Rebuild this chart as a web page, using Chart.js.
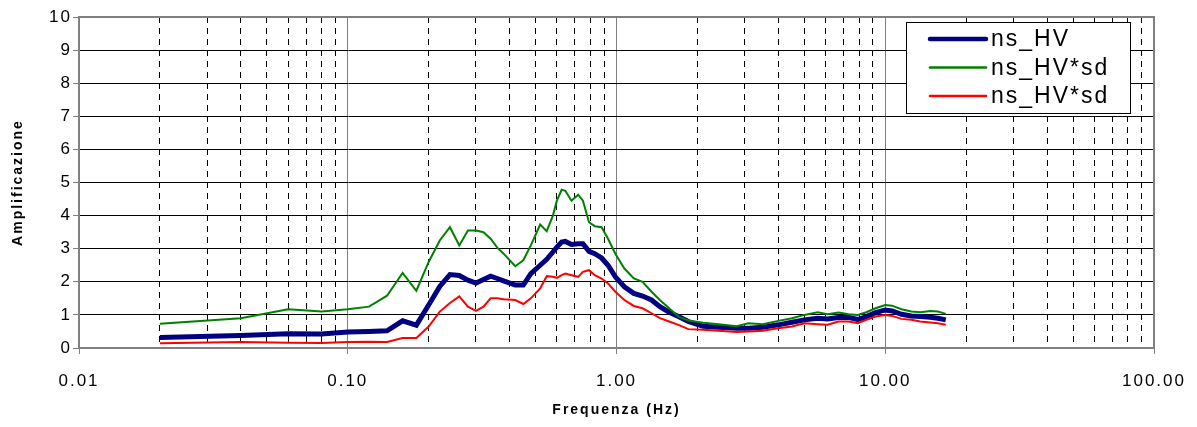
<!DOCTYPE html>
<html>
<head>
<meta charset="utf-8">
<title>ns_HV</title>
<script src="https://cdn.jsdelivr.net/npm/chart.js@4.4.1/dist/chart.umd.min.js"></script>
<style>
  html, body { margin: 0; padding: 0; background: #fff; }
  #wrap { width: 1197px; height: 427px; }
</style>
</head>
<body>
<div id="wrap"><canvas id="hvChart" width="1197" height="427"></canvas></div>
<script>
// frequenze (Hz)
const freq = [0.02, 0.04, 0.06, 0.08, 0.10, 0.12, 0.14, 0.16, 0.18, 0.20,
  0.22, 0.24, 0.26, 0.28, 0.30, 0.32, 0.34, 0.36, 0.38, 0.42,
  0.45, 0.48, 0.52, 0.55, 0.58, 0.60, 0.625, 0.645, 0.68, 0.72,
  0.75, 0.79, 0.83, 0.88, 0.93, 0.99, 1.07, 1.16, 1.25, 1.35,
  1.45, 1.57, 1.7, 1.85, 2.1, 2.4, 2.8, 3.1, 3.5, 4.0,
  4.5, 5.0, 5.6, 6.1, 6.7, 7.3, 7.9, 8.5, 9.2, 10.0,
  10.6, 11.5, 12.5, 13.5, 14.7, 15.7, 16.8];

const hv = [0.32, 0.38, 0.43, 0.42, 0.48, 0.50, 0.52, 0.82, 0.69, 1.30,
  1.86, 2.22, 2.19, 2.05, 1.96, 2.07, 2.17, 2.10, 2.03, 1.90,
  1.90, 2.25, 2.50, 2.68, 2.90, 3.05, 3.20, 3.22, 3.13, 3.15,
  3.15, 2.92, 2.85, 2.72, 2.50, 2.15, 1.85, 1.65, 1.57, 1.45,
  1.25, 1.08, 0.95, 0.80, 0.66, 0.63, 0.60, 0.60, 0.63, 0.70,
  0.78, 0.85, 0.90, 0.88, 0.92, 0.93, 0.86, 0.95, 1.07, 1.15,
  1.12, 1.02, 0.97, 0.95, 0.93, 0.90, 0.85];

const hvUpper = [0.73, 0.90, 1.17, 1.10, 1.17, 1.25, 1.58, 2.27, 1.73, 2.60,
  3.25, 3.65, 3.10, 3.55, 3.55, 3.50, 3.30, 3.03, 2.85, 2.47,
  2.65, 3.10, 3.73, 3.53, 4.00, 4.45, 4.78, 4.75, 4.45, 4.63,
  4.45, 3.80, 3.68, 3.65, 3.30, 2.85, 2.40, 2.10, 2.00, 1.70,
  1.45, 1.20, 0.95, 0.83, 0.76, 0.72, 0.66, 0.75, 0.72, 0.82,
  0.90, 1.00, 1.08, 1.02, 1.07, 1.02, 1.00, 1.08, 1.20, 1.30,
  1.28, 1.17, 1.10, 1.08, 1.12, 1.10, 1.03];

const hvLower = [0.14, 0.18, 0.16, 0.15, 0.18, 0.19, 0.18, 0.30, 0.30, 0.65,
  1.10, 1.36, 1.56, 1.25, 1.12, 1.25, 1.50, 1.50, 1.47, 1.45,
  1.33, 1.50, 1.80, 2.17, 2.15, 2.12, 2.20, 2.25, 2.20, 2.15,
  2.30, 2.35, 2.20, 2.10, 1.95, 1.70, 1.45, 1.27, 1.20, 1.05,
  0.90, 0.80, 0.70, 0.57, 0.55, 0.52, 0.48, 0.50, 0.52, 0.60,
  0.65, 0.75, 0.72, 0.70, 0.80, 0.80, 0.75, 0.85, 0.95, 1.00,
  0.97, 0.88, 0.85, 0.80, 0.77, 0.75, 0.70];

const seriesNames = ['ns_HV', 'ns_HV*sd', 'ns_HV*sd'];
const seriesColors = ['#000080', '#008000', '#ff0000'];
const seriesWidths = [5, 2, 2];

const xDecades = [0.01, 0.1, 1, 10, 100];
const xTickLabels = ['0.01', '0.10', '1.00', '10.00', '100.00'];

const FONT = '"Liberation Sans", Arial, sans-serif';

// griglia: 1..9 per ogni decade
const xGrid = [];
for (let d = 0; d < xDecades.length - 1; d++) {
    for (let m = 1; m <= 9; m++) xGrid.push(+(xDecades[d] * m).toPrecision(6));
}
xGrid.push(xDecades[xDecades.length - 1]);

function isDecade(v) {
    return xDecades.some(d => Math.abs(d - v) < d * 1e-6);
}

function toPoints(values) {
    return freq.map((f, i) => ({ x: f, y: values[i] }));
}

// testo un po' largo come nell'originale
const wideText = {
    id: 'wideText',
    beforeDraw(chart) {
        chart.ctx.letterSpacing = '2px';
    }
};

// legenda dentro l'area del grafico, come in Excel
const boxLegend = {
    id: 'boxLegend',
    afterDraw(chart) {
        const ctx = chart.ctx;
        const area = chart.chartArea;
        ctx.save();
        // bordo superiore e destro dell'area
        ctx.strokeStyle = '#808080';
        ctx.lineWidth = 2;
        ctx.beginPath();
        ctx.moveTo(area.left, area.top);
        ctx.lineTo(area.right, area.top);
        ctx.lineTo(area.right, area.bottom);
        ctx.stroke();

        const bx = 906, by = 22, bw = 224, bh = 91;
        ctx.fillStyle = '#fff';
        ctx.fillRect(bx, by, bw, bh);
        ctx.strokeStyle = '#000';
        ctx.lineWidth = 1;
        ctx.strokeRect(bx + 0.5, by + 0.5, bw, bh);

        ctx.font = '23px ' + FONT;
        ctx.letterSpacing = '2px';
        ctx.textBaseline = 'middle';
        ctx.textAlign = 'left';
        seriesNames.forEach((name, i) => {
            const y = 39 + i * 28.5;
            ctx.strokeStyle = seriesColors[i];
            ctx.lineWidth = i === 0 ? 4.5 : 2.5;
            ctx.lineCap = 'round';
            ctx.beginPath();
            ctx.moveTo(930, y);
            ctx.lineTo(986, y);
            ctx.stroke();
            ctx.fillStyle = '#000';
            ctx.fillText(name, 991, y + 1);
        });
        ctx.restore();
    }
};

const ctx = document.getElementById('hvChart').getContext('2d');
new Chart(ctx, {
    type: 'line',
    data: {
        datasets: [hv, hvUpper, hvLower].map((vals, i) => ({
            label: seriesNames[i],
            data: toPoints(vals),
            borderColor: seriesColors[i],
            borderWidth: seriesWidths[i],
            pointRadius: 0,
            fill: false,
            tension: 0,
            order: 3 - i
        }))
    },
    options: {
        responsive: false,
        animation: false,
        layout: { padding: { top: 17, right: 40, left: 0, bottom: 0 } },
        plugins: {
            legend: { display: false },
            tooltip: { enabled: false }
        },
        scales: {
            x: {
                type: 'logarithmic',
                min: 0.01,
                max: 100,
                afterBuildTicks: (scale) => {
                    scale.ticks = xGrid.map(v => ({ value: v }));
                },
                afterFit: (scale) => { scale.height = 79; },
                ticks: {
                    autoSkip: false,
                    maxRotation: 0,
                    padding: 17,
                    color: '#000',
                    font: { family: FONT, size: 17 },
                    callback: (value) => {
                        const k = xDecades.findIndex(d => Math.abs(d - value) < d * 1e-6);
                        return k >= 0 ? xTickLabels[k] : '';
                    }
                },
                grid: {
                    lineWidth: 1,
                    color: (c) => (c.tick && isDecade(c.tick.value)) ? '#808080' : '#000',
                    tickLength: 6,
                    tickColor: (c) => (c.tick && isDecade(c.tick.value)) ? '#808080' : 'rgba(0,0,0,0)'
                },
                border: {
                    color: '#808080',
                    width: 2,
                    dash: (c) => (c.tick && !isDecade(c.tick.value)) ? [6, 5] : []
                },
                title: {
                    display: true,
                    text: 'Frequenza (Hz)',
                    color: '#000',
                    font: { family: FONT, size: 14, weight: 'bold' },
                    padding: { top: 0, bottom: 8 }
                }
            },
            y: {
                min: 0,
                max: 10,
                afterFit: (scale) => { scale.width = 79; },
                ticks: {
                    stepSize: 1,
                    padding: 1,
                    color: '#000',
                    font: { family: FONT, size: 17 }
                },
                grid: {
                    color: '#000',
                    lineWidth: 1,
                    tickLength: 6,
                    tickColor: '#808080'
                },
                border: { color: '#808080', width: 2 },
                title: {
                    display: true,
                    text: 'Amplificazione',
                    color: '#000',
                    font: { family: FONT, size: 14, weight: 'bold' },
                    padding: { top: 10, bottom: 0 }
                }
            }
        }
    },
    plugins: [wideText, boxLegend]
});
</script>
</body>
</html>
